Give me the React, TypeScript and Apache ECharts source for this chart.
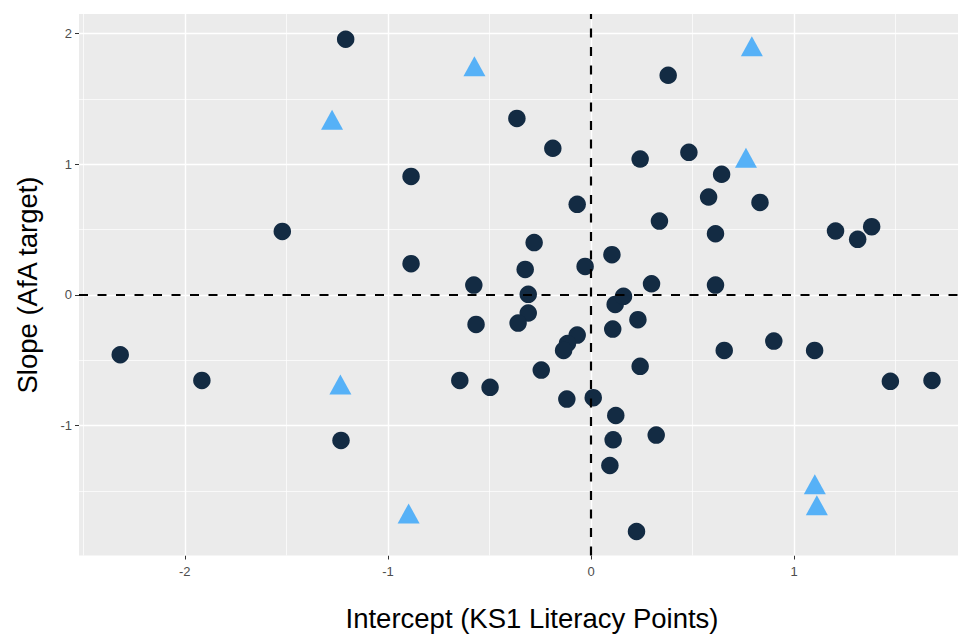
import React, { useEffect, useRef } from "react";
import * as echarts from "echarts";

// Intercept (x) and slope (y) values for the dark circles
const circleX = [-2.318, -1.916, -1.52, -1.208, -1.231, -0.886, -0.886, -0.365, -0.188, -0.068, -0.28, -0.324, -0.309, -0.577, -0.566, -0.309, -0.359, -0.029, 0.103, 0.119, 0.16, 0.107, -0.068, 0.231, 0.298, 0.337, 0.613, 0.613, 0.579, 0.643, 0.242, 0.38, 0.482, 0.832, 1.204, 1.313, 1.382, 0.656, 0.9, 1.101, 0.242, 1.474, 1.679, 0.321, 0.224, 0.011, 0.122, 0.109, 0.093, -0.116, -0.135, -0.245, -0.646, -0.497, -0.119];
const circleY = [-0.458, -0.655, 0.486, 1.957, -1.114, 0.907, 0.239, 1.351, 1.122, 0.693, 0.4, 0.195, 0.004, 0.075, -0.226, -0.139, -0.216, 0.218, 0.308, -0.073, -0.011, -0.262, -0.308, -0.19, 0.085, 0.565, 0.468, 0.075, 0.749, 0.923, 1.04, 1.681, 1.091, 0.708, 0.489, 0.425, 0.522, -0.425, -0.354, -0.425, -0.547, -0.662, -0.655, -1.073, -1.811, -0.787, -0.923, -1.109, -1.306, -0.372, -0.425, -0.576, -0.655, -0.708, -0.798];

// Light blue triangles
const triX = [-0.574, -1.275, 0.792, 0.763, -1.234, -0.898, 1.102, 1.112];
const triY = [1.724, 1.316, 1.877, 1.025, -0.711, -1.698, -1.474, -1.635];

const xMajor = [-2, -1, 0, 1];
const xMinor = [-2.5, -1.5, -0.5, 0.5, 1.5];
const yMajor = [-1, 0, 1, 2];
const yMinor = [-1.5, -0.5, 0.5, 1.5];

const xTitle = "Intercept (KS1 Literacy Points)";
const yTitle = "Slope (AfA target)";

const X_MIN = -2.521;
const X_MAX = 1.807;
const Y_MIN = -1.995;
const Y_MAX = 2.15;

const FONT = "'Liberation Sans', Arial, sans-serif";

export default function App() {
  const ref = useRef<HTMLDivElement>(null);

  useEffect(() => {
    if (!ref.current) return;
    const chart = echarts.init(ref.current, null, { renderer: "svg" });

    const gridLines = [
      ...xMinor.map((v) => ({ xAxis: v, lineStyle: { width: 0.7 } })),
      ...yMinor.map((v) => ({ yAxis: v, lineStyle: { width: 0.7 } })),
      ...xMajor.map((v) => ({ xAxis: v, lineStyle: { width: 1.4 } })),
      ...yMajor.map((v) => ({ yAxis: v, lineStyle: { width: 1.4 } })),
    ];

    const axisCommon = {
      type: "value" as const,
      splitLine: { show: false },
      axisLine: { show: false, onZero: false },
    };

    chart.setOption({
      animation: false,
      backgroundColor: "#ffffff",
      grid: {
        left: 79,
        right: 0,
        top: 14,
        bottom: 78.5,
        show: true,
        backgroundColor: "#EBEBEB",
        borderWidth: 0,
      },
      xAxis: {
        ...axisCommon,
        min: X_MIN,
        max: X_MAX,
        axisTick: {
          show: true,
          length: 4,
          customValues: xMajor,
          lineStyle: { color: "#333333", width: 1 },
        },
        axisLabel: {
          customValues: xMajor,
          fontSize: 13,
          color: "#4D4D4D",
          margin: 9,
          fontFamily: FONT,
        },
      },
      yAxis: {
        ...axisCommon,
        min: Y_MIN,
        max: Y_MAX,
        axisTick: {
          show: true,
          length: 4,
          customValues: yMajor,
          lineStyle: { color: "#333333", width: 1 },
        },
        axisLabel: {
          customValues: yMajor,
          fontSize: 13,
          color: "#4D4D4D",
          margin: 7,
          fontFamily: FONT,
        },
      },
      series: [
        {
          type: "scatter",
          data: [],
          silent: true,
          markLine: {
            z: 1,
            silent: true,
            symbol: "none",
            label: { show: false },
            animation: false,
            lineStyle: { color: "#ffffff", type: "solid" },
            emphasis: { disabled: true },
            data: gridLines,
          },
        },
        {
          type: "scatter",
          z: 3,
          symbol: "circle",
          symbolSize: 17.5,
          itemStyle: { color: "#132B43", opacity: 1 },
          emphasis: { disabled: true },
          data: circleX.map((x, i) => [x, circleY[i]]),
        },
        {
          type: "scatter",
          z: 3,
          symbol: "triangle",
          symbolSize: [22, 20],
          symbolOffset: [0, -3.3],
          itemStyle: { color: "#56B1F7", opacity: 1 },
          emphasis: { disabled: true },
          data: triX.map((x, i) => [x, triY[i]]),
        },
        {
          type: "scatter",
          data: [],
          silent: true,
          markLine: {
            z: 10,
            silent: true,
            symbol: "none",
            label: { show: false },
            animation: false,
            lineStyle: { color: "#000000", type: [9, 9.5], width: 2.2 },
            emphasis: { disabled: true },
            data: [{ xAxis: 0 }, { yAxis: 0 }],
          },
        },
      ],
      graphic: [
        {
          type: "text",
          x: 532,
          y: 618,
          style: {
            text: xTitle,
            fontSize: 27.5,
            fontFamily: FONT,
            fill: "#000000",
            align: "center",
            verticalAlign: "middle",
          },
        },
        {
          type: "text",
          x: 27,
          y: 285,
          rotation: Math.PI / 2,
          style: {
            text: yTitle,
            fontSize: 27.5,
            fontFamily: FONT,
            fill: "#000000",
            align: "center",
            verticalAlign: "middle",
          },
        },
      ],
    });

    return () => {
      chart.dispose();
    };
  }, []);

  return (
    <div
      ref={ref}
      style={{ position: "fixed", left: 0, top: 0, width: 958, height: 634 }}
    />
  );
}
